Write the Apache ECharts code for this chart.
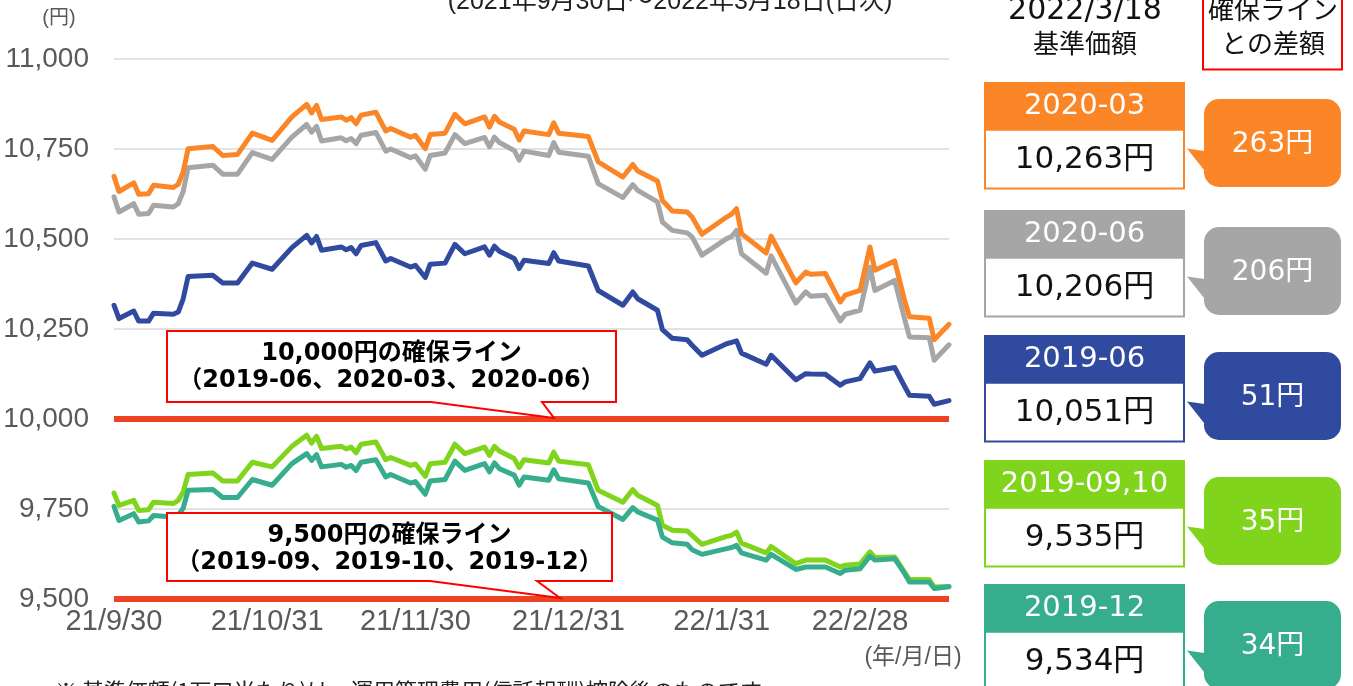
<!DOCTYPE html>
<html><head><meta charset="utf-8">
<script src="https://cdn.jsdelivr.net/npm/echarts@6/dist/echarts.min.js"></script>
<style>html,body{margin:0;padding:0;background:#fff}#c{width:1353px;height:686px}</style>
</head><body><div id="c"></div>
<script>
const dates = ['2021-09-30','2021-10-01','2021-10-04','2021-10-05','2021-10-07','2021-10-08','2021-10-12','2021-10-13','2021-10-14','2021-10-15',
'2021-10-20','2021-10-22','2021-10-25','2021-10-28','2021-11-01','2021-11-05','2021-11-08','2021-11-09','2021-11-10','2021-11-11',
'2021-11-15','2021-11-16','2021-11-17','2021-11-18','2021-11-19','2021-11-22','2021-11-24','2021-11-25','2021-11-29','2021-11-30',
'2021-12-02','2021-12-03','2021-12-06','2021-12-08','2021-12-10','2021-12-14','2021-12-15','2021-12-16','2021-12-17','2021-12-20',
'2021-12-21','2021-12-22','2021-12-27','2021-12-28','2021-12-29','2022-01-04','2022-01-06','2022-01-11','2022-01-13','2022-01-14',
'2022-01-18','2022-01-19','2022-01-21','2022-01-24','2022-01-25','2022-01-27','2022-02-01','2022-02-02','2022-02-03','2022-02-04',
'2022-02-09','2022-02-10','2022-02-15','2022-02-17','2022-02-18','2022-02-21','2022-02-24','2022-02-25','2022-02-28','2022-03-02',
'2022-03-03','2022-03-07','2022-03-09','2022-03-10','2022-03-14','2022-03-15','2022-03-18'];

const fund2020_03 = [10674,10632,10656,10624,10626,10649,10643,10652,10686,10751,
10757,10732,10735,10794,10774,10839,10874,10850,10871,10832,
10839,10830,10837,10820,10844,10852,10800,10807,10783,10788,
10751,10790,10794,10846,10820,10839,10811,10841,10825,10805,
10775,10800,10790,10823,10794,10785,10714,10672,10707,10689,
10661,10607,10578,10575,10561,10513,10561,10569,10584,10515,
10461,10508,10378,10408,10402,10404,10325,10344,10357,10478,
10413,10439,10330,10284,10280,10220,10263];

const fund2020_06 = [10617,10575,10598,10569,10571,10594,10589,10598,10632,10698,
10705,10680,10680,10740,10721,10783,10818,10797,10813,10772,
10781,10773,10779,10765,10788,10796,10744,10750,10726,10731,
10694,10732,10739,10790,10765,10782,10756,10783,10768,10746,
10719,10744,10732,10768,10741,10730,10654,10615,10651,10635,
10603,10547,10524,10517,10506,10455,10501,10507,10524,10459,
10405,10453,10322,10353,10341,10344,10272,10291,10302,10422,
10357,10385,10279,10228,10226,10163,10206];

const fund2019_06 = [10316,10279,10300,10272,10272,10294,10291,10297,10334,10396,
10399,10378,10378,10433,10416,10476,10510,10489,10507,10469,
10478,10470,10476,10459,10482,10490,10439,10446,10422,10427,
10393,10430,10433,10485,10459,10478,10455,10480,10466,10446,
10418,10441,10432,10462,10439,10425,10357,10316,10353,10334,
10302,10248,10224,10220,10205,10177,10209,10213,10217,10183,
10152,10177,10109,10126,10125,10124,10094,10103,10112,10156,
10133,10143,10091,10066,10063,10041,10051];

const fund2019_0910 = [9794,9760,9774,9746,9748,9769,9765,9774,9797,9846,
9850,9828,9828,9880,9867,9924,9955,9933,9952,9918,
9924,9917,9922,9906,9930,9936,9887,9893,9871,9875,
9841,9876,9880,9930,9904,9922,9899,9924,9911,9890,
9865,9887,9878,9908,9883,9873,9802,9769,9804,9788,
9760,9705,9691,9689,9677,9652,9674,9677,9686,9655,
9628,9646,9598,9608,9608,9608,9589,9594,9597,9631,
9615,9617,9575,9554,9554,9533,9535];

const fund2019_12 = [9757,9718,9737,9714,9717,9732,9728,9733,9752,9802,
9804,9782,9782,9832,9816,9876,9904,9885,9901,9867,
9874,9866,9871,9857,9880,9887,9839,9846,9822,9826,
9791,9828,9832,9883,9857,9876,9853,9878,9862,9844,
9816,9839,9830,9859,9834,9822,9757,9721,9754,9742,
9719,9672,9656,9652,9637,9624,9640,9643,9649,9628,
9608,9624,9582,9589,9589,9589,9571,9580,9584,9619,
9608,9612,9571,9547,9547,9529,9534];

const seriesNames = ['2020-03','2020-06','2019-06','2019-09,10','2019-12'];
const seriesValues = [fund2020_03, fund2020_06, fund2019_06, fund2019_0910, fund2019_12];
const floorLines = [10000, 10000, 10000, 9500, 9500];
const xTickDates = ['2021-09-30','2021-10-31','2021-11-30','2021-12-31','2022-01-31','2022-02-28'];
const yTicks = {min: 9500, max: 11000, interval: 250};
const calloutTexts = [
  ['10,000円の確保ライン', '（2019-06、2020-03、2020-06）'],
  ['9,500円の確保ライン', '（2019-09、2019-10、2019-12）']
];
const calloutFloors = [10000, 9500];
const baseDateText = '2022/3/18';

const colors = ['#FB8628', '#A6A6A6', '#2F4A9E', '#80D41B', '#36AD8D'];
const drawOrder = [1, 0, 2, 3, 4];

function t(s) { const p = s.split('-').map(Number); return new Date(p[0], p[1] - 1, p[2]).getTime(); }

const LAT = '"Liberation Sans", "Noto Sans CJK JP", sans-serif';
const DJ = '"DejaVu Sans", "Noto Sans CJK JP", sans-serif';
const CJK = '"Noto Sans CJK JP", sans-serif';

const chart = echarts.init(document.getElementById('c'), null, {renderer: 'canvas'});

const series = drawOrder.map((k, idx) => {
  const s = {
    type: 'line',
    name: seriesNames[k],
    data: dates.map((d, i) => [t(d), seriesValues[k][i]]),
    showSymbol: false,
    symbol: 'none',
    lineStyle: {color: colors[k], width: 5, join: 'round', cap: 'round'},
    itemStyle: {color: colors[k]},
    silent: true,
    animation: false,
    z: 3
  };
  if (idx === 0) {
    s.markLine = {
      silent: true, symbol: ['none', 'none'], animation: false,
      label: {show: false},
      lineStyle: {color: '#EE4323', width: 6, type: 'solid'},
      emphasis: {disabled: true},
      data: [...new Set(floorLines)].map(v => ({yAxis: v}))
    };
  }
  return s;
});

chart.setOption({
  animation: false,
  grid: {left: 114, right: 404, top: 59, bottom: 87, containLabel: false},
  xAxis: {
    type: 'value',
    min: t(dates[0]),
    max: t(dates[dates.length - 1]),
    axisLine: {show: false},
    axisTick: {show: false},
    splitLine: {show: false},
    axisLabel: {
      customValues: xTickDates.map(t),
      margin: 8,
      color: '#595959',
      fontSize: 29,
      fontFamily: LAT,
      formatter: function (v) {
        const d = new Date(v);
        return String(d.getFullYear()).slice(2) + '/' + (d.getMonth() + 1) + '/' + d.getDate();
      }
    }
  },
  yAxis: {
    type: 'value',
    min: yTicks.min, max: yTicks.max, interval: yTicks.interval,
    axisLine: {show: false},
    axisTick: {show: false},
    splitLine: {lineStyle: {color: '#D9D9D9', width: 1.5}},
    axisLabel: {
      margin: 25, color: '#595959', fontSize: 28, fontFamily: LAT,
      formatter: v => v.toLocaleString('en-US')
    }
  },
  series: series
});

const g = [];
function txt(x, y, text, size, color, family, weight, align) {
  g.push({type: 'text', x: x, y: y, silent: true, z: 10,
    style: {text: text, fontSize: size, fontFamily: family, fontWeight: weight || 'normal',
      fill: color, align: align || 'center', verticalAlign: 'middle'}});
}

txt(670, 2, '(2021年9月30日～2022年3月18日(日次)', 25, '#222', LAT);
txt(59, 18, '(円)', 20, '#595959', LAT);
txt(913, 658, '(年/月/日)', 23, '#595959', LAT);
txt(55, 691, '※ 基準価額(1万口当たり)は、運用管理費用(信託報酬)控除後のものです。', 22, '#222', CJK, 'normal', 'left');

const boxes = [
  {x0: 167, y0: 331, x1: 616, y1: 402, b0: 431, b1: 542, tipX: 554},
  {x0: 167, y0: 513, x1: 612, y1: 581, b0: 430, b1: 537, tipX: 560}
];
boxes.forEach((b, i) => {
  const yLine = chart.convertToPixel({yAxisIndex: 0}, calloutFloors[i]);
  const tipY = yLine - 1;
  g.push({type: 'polygon', silent: true, z: 8,
    shape: {points: [[b.x0, b.y0], [b.x1, b.y0], [b.x1, b.y1], [b.b1, b.y1], [b.tipX, tipY], [b.b0, b.y1], [b.x0, b.y1]]},
    style: {fill: '#fff', stroke: '#FF0000', lineWidth: 2}});
  const cx = (b.x0 + b.x1) / 2;
  txt(cx, b.y0 + 23, calloutTexts[i][0], 24, '#000', DJ, 'bold');
  txt(cx, b.y0 + 50, calloutTexts[i][1], 24, '#000', DJ, 'bold');
});

txt(1085, 11, baseDateText, 30, '#111', DJ);
txt(1085, 43, '基準価額', 26, '#111', CJK);
g.push({type: 'rect', silent: true, z: 8, shape: {x: 1203, y: -10, width: 139, height: 79.5},
  style: {fill: '#fff', stroke: '#FF0000', lineWidth: 2}});
txt(1273, 9, '確保ライン', 26, '#111', CJK);
txt(1273, 43, 'との差額', 26, '#111', CJK);

const cardTops = [82, 210, 335, 460, 584];
seriesNames.forEach((name, k) => {
  const top = cardTops[k];
  const col = colors[k];
  const vals = seriesValues[k];
  const last = vals[vals.length - 1];
  const diff = last - floorLines[k];
  const hx = 985, hw = 199, hh = 47.5, vh = 59;
  g.push({type: 'rect', silent: true, z: 8, shape: {x: hx, y: top + hh, width: hw, height: vh},
    style: {fill: '#fff', stroke: col, lineWidth: 2}});
  g.push({type: 'rect', silent: true, z: 9, shape: {x: hx - 1, y: top, width: hw + 2, height: hh + 1},
    style: {fill: col}});
  txt(hx + hw / 2, top + hh / 2 + 1, name, 29, '#fff', DJ);
  txt(hx + hw / 2, top + hh + vh / 2 + 1, last.toLocaleString('en-US') + '円', 31, '#111', DJ);
  const bx = 1204, bw = 137, by = top + 17, bh = 88;
  const tipY = top + hh + 19;
  g.push({type: 'polygon', silent: true, z: 8,
    shape: {points: [[1187, tipY], [bx + 4, tipY + 3], [bx + 22, by + bh - 3], [bx + 4, by + bh - 12]]},
    style: {fill: col}});
  g.push({type: 'rect', silent: true, z: 8, shape: {x: bx, y: by, width: bw, height: bh, r: 15},
    style: {fill: col}});
  txt(bx + bw / 2, by + bh / 2 + 2, diff + '円', 28, '#fff', DJ);
});

chart.setOption({graphic: {elements: g}});
</script>
</body></html>
